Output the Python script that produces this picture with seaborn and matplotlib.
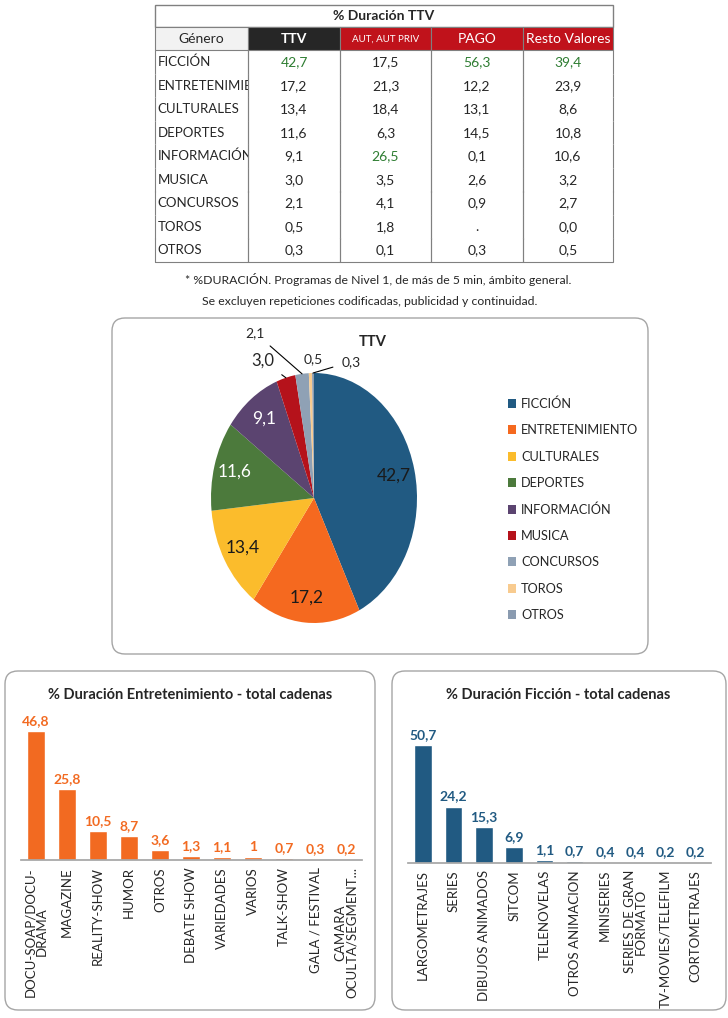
import numpy as np
import pandas as pd
import matplotlib
matplotlib.use("Agg")
import matplotlib.pyplot as plt
from matplotlib.patches import FancyBboxPatch
from matplotlib.transforms import Bbox, TransformedBbox
import seaborn as sns

W, H = 728, 1018

# table / pie data
genres = ["FICCIÓN", "ENTRETENIMIENTO", "CULTURALES", "DEPORTES", "INFORMACIÓN",
          "MUSICA", "CONCURSOS", "TOROS", "OTROS"]
ttv = [42.7, 17.2, 13.4, 11.6, 9.1, 3.0, 2.1, 0.5, 0.3]
aut = [17.5, 21.3, 18.4, 6.3, 26.5, 3.5, 4.1, 1.8, 0.1]
pago = [56.3, 12.2, 13.1, 14.5, 0.1, 2.6, 0.9, None, 0.3]
resto = [39.4, 23.9, 8.6, 10.8, 10.6, 3.2, 2.7, 0.0, 0.5]
table_cols = ["TTV", "AUT, AUT PRIV", "PAGO", "Resto Valores"]

pie_colors = ["#215A82", "#F5691F", "#FBBC2C", "#4C7A3C", "#5B4470",
              "#B5121B", "#8FA1B5", "#F8CB8F", "#8A9BB0"]

# bar chart data
ent_cats = ["DOCU-SOAP/DOCU-\nDRAMA", "MAGAZINE", "REALITY-SHOW", "HUMOR", "OTROS",
            "DEBATE SHOW", "VARIEDADES", "VARIOS", "TALK-SHOW", "GALA / FESTIVAL",
            "CAMARA\nOCULTA/SEGMENT..."]
ent_vals = [46.8, 25.8, 10.5, 8.7, 3.6, 1.3, 1.1, 1, 0.7, 0.3, 0.2]
fic_cats = ["LARGOMETRAJES", "SERIES", "DIBUJOS ANIMADOS", "SITCOM", "TELENOVELAS",
            "OTROS ANIMACION", "MINISERIES", "SERIES DE GRAN\nFORMATO",
            "TV-MOVIES/TELEFILM", "CORTOMETRAJES"]
fic_vals = [50.7, 24.2, 15.3, 6.9, 1.1, 0.7, 0.4, 0.4, 0.2, 0.2]

ORANGE = "#F26A21"
BLUE = "#215A82"
GRID = "#808080"

sns.set_theme(style="white")
plt.rcParams["font.family"] = ["Lato", "DejaVu Sans"]


def px_axes(fig, x0, y0, x1, y1):
    return fig.add_axes([x0 / W, 1 - y1 / H, (x1 - x0) / W, (y1 - y0) / H])


def fmt(v):
    return "." if v is None else f"{v:.1f}".replace(".", ",")


def fmt_bar(v):
    return f"{v:g}".replace(".", ",")


def rounded_box(fig, x0, y0, x1, y1):
    box = FancyBboxPatch((x0 / 100, (H - y1) / 100), (x1 - x0) / 100, (y1 - y0) / 100,
                         boxstyle="round,pad=0,rounding_size=0.13",
                         transform=fig.dpi_scale_trans, facecolor="white",
                         edgecolor="#A5A5A5", linewidth=1.0, zorder=-5)
    fig.patches.append(box)


fig = plt.figure(figsize=(W / 100, H / 100), dpi=100)

# ---- table ----
tax = px_axes(fig, 155, 5, 613, 262)
tax.axis("off")
col_w = np.array([93, 92, 91, 92, 90]) / 458
title_h = 22 / 257

tt = tax.table(cellText=[["% Duración TTV"]], bbox=[0, 1 - title_h, 1, title_h],
               cellLoc="center")
tt.auto_set_font_size(False)
tt.set_fontsize(10)
tt[0, 0].set_edgecolor(GRID)
tt[0, 0].get_text().set_fontweight("bold")

rows = [[g, fmt(a), fmt(b), fmt(c), fmt(d)] for g, a, b, c, d in zip(genres, ttv, aut, pago, resto)]
tbl = tax.table(cellText=rows, colLabels=["Género"] + table_cols, colWidths=list(col_w),
                bbox=[0, 0, 1, 1 - title_h], cellLoc="center")
tbl.auto_set_font_size(False)
tbl.set_fontsize(10)

header_fill = ["#F2F2F2", "#262626", "#C0121B", "#C0121B", "#C0121B"]
best_rows = []
for col in (ttv, aut, pago, resto):
    vals = [v if v is not None else -1 for v in col]
    best_rows.append(int(np.argmax(vals)) + 1)

name_clip = TransformedBbox(Bbox([[0, 0], [col_w[0], 1]]), tax.transAxes)
for (r, c), cell in tbl.get_celld().items():
    cell.set_edgecolor(GRID)
    cell.set_linewidth(0.8)
    txt = cell.get_text()
    if r == 0:
        cell.set_facecolor(header_fill[c])
        if c > 0:
            txt.set_color("white")
        if c == 1:
            txt.set_fontweight("bold")
        if c == 2:
            txt.set_fontsize(7)
        continue
    cell.visible_edges = "LRB" if r == len(genres) else "LR"
    if c == 0:
        cell._loc = "left"
        cell.PAD = 0.03
        txt.set_ha("left")
        txt.set_fontsize(9.5)
        txt.set_clip_on(True)
        txt.set_clip_box(name_clip)
    elif best_rows[c - 1] == r:
        cell.set_facecolor("#C6EFCE")
        txt.set_color("#2E7D32")

fig.text(378 / W, 1 - 280 / H,
         "* %DURACIÓN. Programas de Nivel 1, de más de 5 min, ámbito general.",
         ha="center", va="center", fontsize=8.8)
fig.text(370 / W, 1 - 302 / H,
         "Se excluyen repeticiones codificadas, publicidad y continuidad.",
         ha="center", va="center", fontsize=8.8)

# ---- pie ----
rounded_box(fig, 112, 318, 648, 654)
pax = px_axes(fig, 211, 373, 417, 623)
wedges, _ = pax.pie(ttv, colors=pie_colors, startangle=90, counterclock=False,
                    wedgeprops=dict(linewidth=0))
pax.set_aspect("auto")
pax.set_xlim(-1, 1)
pax.set_ylim(-1, 1)

label_colors = ["#1A1A1A", "#1A1A1A", "#1A1A1A", "white", "white"]
small_pos = {5: (-0.5, 1.1), 6: (-0.57, 1.32), 7: (-0.01, 1.11), 8: (0.36, 1.09)}
for i, w in enumerate(wedges):
    ang = np.deg2rad((w.theta1 + w.theta2) / 2)
    label = fmt(ttv[i])
    if i < 5:
        pax.text(0.8 * np.cos(ang), 0.8 * np.sin(ang), label, ha="center", va="center",
                 fontsize=12.5, color=label_colors[i])
    elif i == 7:
        pax.text(*small_pos[i], label, ha="center", va="center", fontsize=10)
    else:
        pax.annotate(label, xy=(np.cos(ang), np.sin(ang)), xytext=small_pos[i],
                     ha="center", va="center", fontsize=12 if i == 5 else 10,
                     annotation_clip=False,
                     arrowprops=dict(arrowstyle="-", color="black", lw=0.8,
                                     shrinkA=4, shrinkB=0))

fig.text(373 / W, 1 - 342 / H, "TTV", ha="center", va="center", fontsize=10.5,
         fontweight="bold")
fig.legend(wedges, genres, loc="upper left", bbox_to_anchor=(496 / W, 1 - 386 / H),
           frameon=False, fontsize=9.2, handlelength=0.7, handleheight=0.7,
           handletextpad=0.35, labelspacing=1.12)

# ---- bar charts ----
ent_df = pd.DataFrame({"categoria": ent_cats, "valor": ent_vals})
fic_df = pd.DataFrame({"categoria": fic_cats, "valor": fic_vals})

rounded_box(fig, 5, 671, 375, 1010)
rounded_box(fig, 392, 671, 726, 1010)

panels = [
    (ent_df, ORANGE, (20.5, 722, 361.5, 860), 50, 190,
     "% Duración Entretenimiento - total cadenas"),
    (fic_df, BLUE, (408, 735, 711, 863), 55, 558,
     "% Duración Ficción - total cadenas"),
]
for df, color, box, ymax, title_x, title in panels:
    ax = px_axes(fig, *box)
    sns.barplot(data=df, x="categoria", y="valor", color=color, saturation=1,
                width=0.58, ax=ax)
    ax.set_ylim(0, ymax)
    ax.set_xlim(-0.5, len(df) - 0.5)
    ax.set_xlabel("")
    ax.set_ylabel("")
    ax.set_yticks([])
    ax.patch.set_alpha(0)
    for side in ("top", "left", "right"):
        ax.spines[side].set_visible(False)
    ax.spines["bottom"].set_color("#A6A6A6")
    ax.tick_params(axis="x", length=0, pad=5, labelsize=9.5, rotation=90)
    for lab in ax.get_xticklabels():
        lab.set_linespacing(0.95)
    ax.bar_label(ax.containers[0], labels=[fmt_bar(v) for v in df["valor"]],
                 padding=3, color=color, fontweight="bold", fontsize=10)
    fig.text(title_x / W, 1 - 695 / H, title, ha="center", va="center",
             fontsize=10.5, fontweight="bold")

fig.savefig("out.png", dpi=100)
